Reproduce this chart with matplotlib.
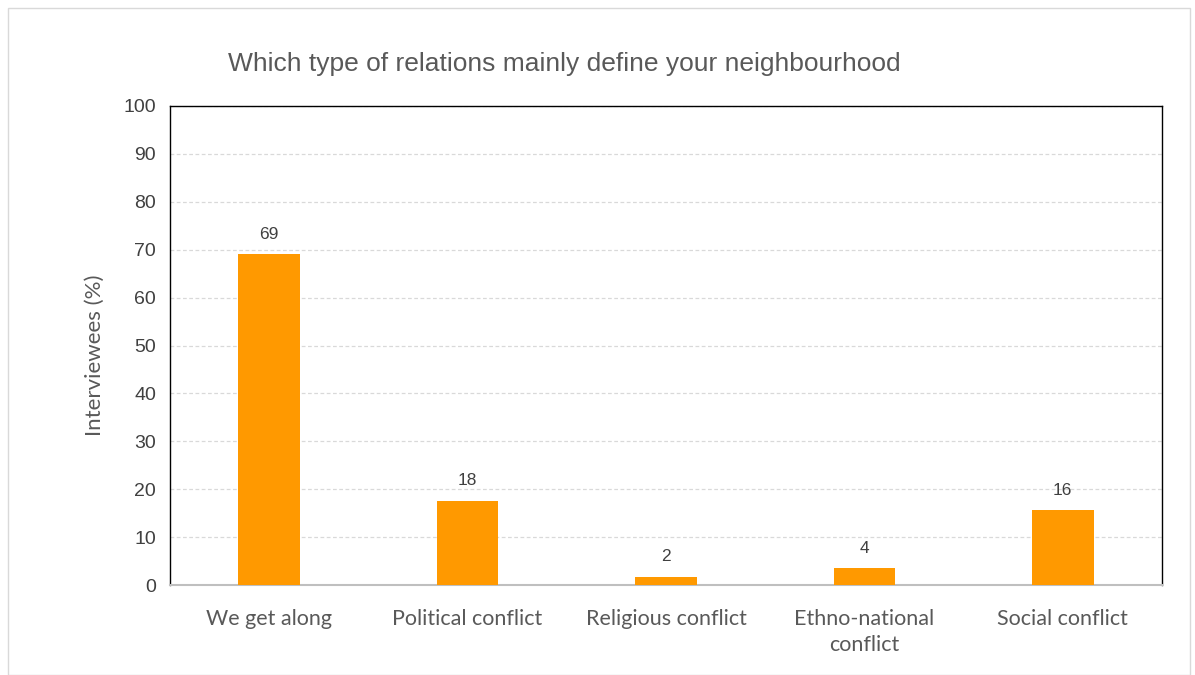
import matplotlib
matplotlib.use("Agg")
import matplotlib.pyplot as plt
from matplotlib.patches import Rectangle

categories = ["We get along", "Political conflict", "Religious conflict",
              "Ethno-national\nconflict", "Social conflict"]
values = [69.0, 17.6, 1.7, 3.5, 15.6]
yticks = [0, 10, 20, 30, 40, 50, 60, 70, 80, 90, 100]
title = "Which type of relations mainly define your neighbourhood"
ylabel = "Interviewees (%)"

fig = plt.figure(figsize=(11.95, 6.75), dpi=100)
fig.patches.append(Rectangle((8/1195, 0), (1190-8)/1195, (675-8)/675, transform=fig.transFigure,
                             fill=False, edgecolor="#d9d9d9", linewidth=1.0))
ax = fig.add_axes([170/1195, 1-585/675, (1162-170)/1195, (585-106)/675])

x = list(range(len(categories)))
ax.bar(x, values, width=0.31, color="#FF9900", zorder=3)
for xi, v in zip(x, values):
    ax.text(xi, v + 2.6, f"{round(v):d}", ha="center", va="bottom",
            fontsize=12.5, color="#404040", family="Liberation Sans")

ax.set_xlim(-0.5, len(categories) - 0.5)
ax.set_ylim(0, 100)
ax.set_yticks(yticks)
ax.set_yticklabels([str(t) for t in yticks], fontsize=14, color="#404040", family="Liberation Sans")
ax.set_xticks(x)
ax.set_xticklabels(categories, fontsize=15.5, color="#595959", family="Lato", linespacing=1.4)
ax.tick_params(axis="both", length=0)
ax.tick_params(axis="x", pad=17)
ax.tick_params(axis="y", pad=10)
ax.yaxis.grid(True, linestyle=(0, (3, 2)), color="#d9d9d9", linewidth=0.9, zorder=0)
for s in ["left", "top", "right"]:
    ax.spines[s].set_color("#000000")
    ax.spines[s].set_linewidth(1.0)
ax.spines["bottom"].set_color("#bfbfbf")
ax.spines["bottom"].set_linewidth(1.5)

ax.set_ylabel(ylabel, fontsize=16, color="#595959", family="Lato")
ax.yaxis.set_label_coords(-0.066, 0.48)
fig.text(564/1195, 1-64/675, title, ha="center", va="center", fontsize=19,
         color="#595959", family="Liberation Sans")

fig.savefig("out.png", dpi=100)
